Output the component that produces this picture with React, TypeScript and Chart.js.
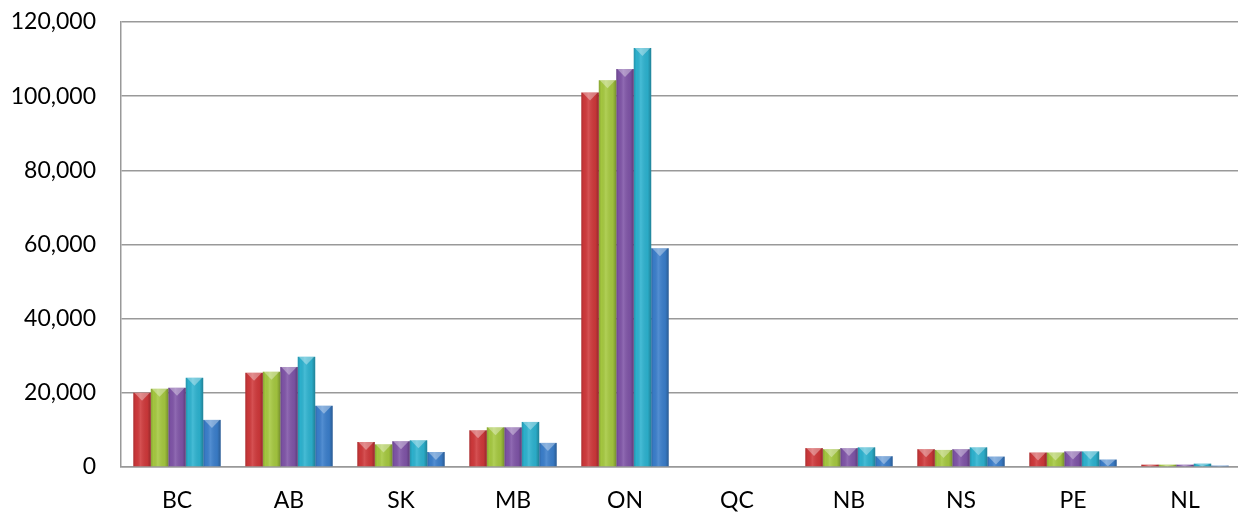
import React, { useEffect, useRef } from "react";
import { Chart, registerables } from "chart.js";

Chart.register(...registerables);

const categories = ["BC", "AB", "SK", "MB", "ON", "QC", "NB", "NS", "PE", "NL"];
const series1 = [20000, 25400, 6750, 9900, 101000, 0, 5100, 4800, 3900, 630];
const series2 = [21100, 25700, 6100, 10700, 104300, 0, 4800, 4600, 3900, 630];
const series3 = [21350, 27000, 6950, 10700, 107300, 0, 5100, 4800, 4200, 630];
const series4 = [24050, 29700, 7200, 12150, 113000, 0, 5300, 5300, 4200, 900];
const series5 = [12700, 16500, 4050, 6500, 59000, 0, 2900, 2800, 2000, 360];
const seriesNames = ["Series 1", "Series 2", "Series 3", "Series 4", "Series 5"];
const colors = ["#D0393B", "#A6C940", "#8055A8", "#2DB3D0", "#3B7FCC"];

const FONT = "Lato, 'Open Sans', sans-serif";

const bevelPlugin = {
  id: "bevel",
  afterDatasetsDraw(chart: any) {
    const ctx = chart.ctx;
    chart.data.datasets.forEach((_: any, di: number) => {
      const meta = chart.getDatasetMeta(di);
      meta.data.forEach((bar: any) => {
        const { x, y, base, width } = bar.getProps(["x", "y", "base", "width"], true);
        const h = base - y;
        if (h <= 0.5) return;
        const left = x - width / 2;
        const right = x + width / 2;
        ctx.save();
        const g = ctx.createLinearGradient(left, 0, right, 0);
        g.addColorStop(0, "rgba(0,0,0,0.18)");
        g.addColorStop(0.15, "rgba(0,0,0,0.02)");
        g.addColorStop(0.4, "rgba(255,255,255,0.12)");
        g.addColorStop(0.8, "rgba(0,0,0,0.05)");
        g.addColorStop(1, "rgba(0,0,0,0.28)");
        ctx.fillStyle = g;
        ctx.fillRect(left, y, width, h);
        const d = Math.min(8, h);
        ctx.beginPath();
        ctx.moveTo(left + 1, y);
        ctx.lineTo(right - 1, y);
        ctx.lineTo(x, y + d);
        ctx.closePath();
        ctx.fillStyle = "rgba(255,255,255,0.35)";
        ctx.fill();
        ctx.restore();
      });
    });
  },
};

export default function App() {
  const ref = useRef<HTMLCanvasElement | null>(null);

  useEffect(() => {
    document.body.style.margin = "0";
    if (!ref.current) return;
    const allSeries = [series1, series2, series3, series4, series5];
    const chart = new Chart(ref.current, {
      type: "bar",
      data: {
        labels: categories,
        datasets: allSeries.map((s, i) => ({
          label: seriesNames[i],
          data: s,
          backgroundColor: colors[i],
          borderWidth: 0,
          categoryPercentage: 0.78,
          barPercentage: 1,
        })),
      },
      options: {
        responsive: false,
        animation: false,
        devicePixelRatio: 1,
        layout: { padding: { top: 22, right: 3, left: 0, bottom: 0 } },
        plugins: { legend: { display: false }, tooltip: { enabled: false } },
        scales: {
          x: {
            grid: { display: false, drawTicks: false },
            border: { color: "#999999", width: 1.5 },
            ticks: { color: "#000", font: { family: FONT, size: 23 }, padding: 20, maxRotation: 0 },
            afterFit: (scale: any) => {
              scale.height = 47;
            },
          },
          y: {
            min: 0,
            max: 120000,
            ticks: {
              stepSize: 20000,
              color: "#000",
              font: { family: FONT, size: 23 },
              padding: 2,
              callback: (v: any) => Number(v).toLocaleString("en-US"),
            },
            grid: {
              color: "#999999",
              lineWidth: 1.5,
              drawTicks: true,
              tickLength: 23,
              tickColor: "rgba(0,0,0,0)",
            },
            border: { color: "#999999", width: 1.5 },
            afterFit: (scale: any) => {
              scale.width = 121;
            },
          },
        },
      },
      plugins: [bevelPlugin],
    });
    return () => chart.destroy();
  }, []);

  return (
    <div style={{ width: 1238, height: 514, overflow: "hidden", position: "relative", background: "#fff" }}>
      <canvas ref={ref} width={1244} height={514} style={{ display: "block" }} />
    </div>
  );
}
